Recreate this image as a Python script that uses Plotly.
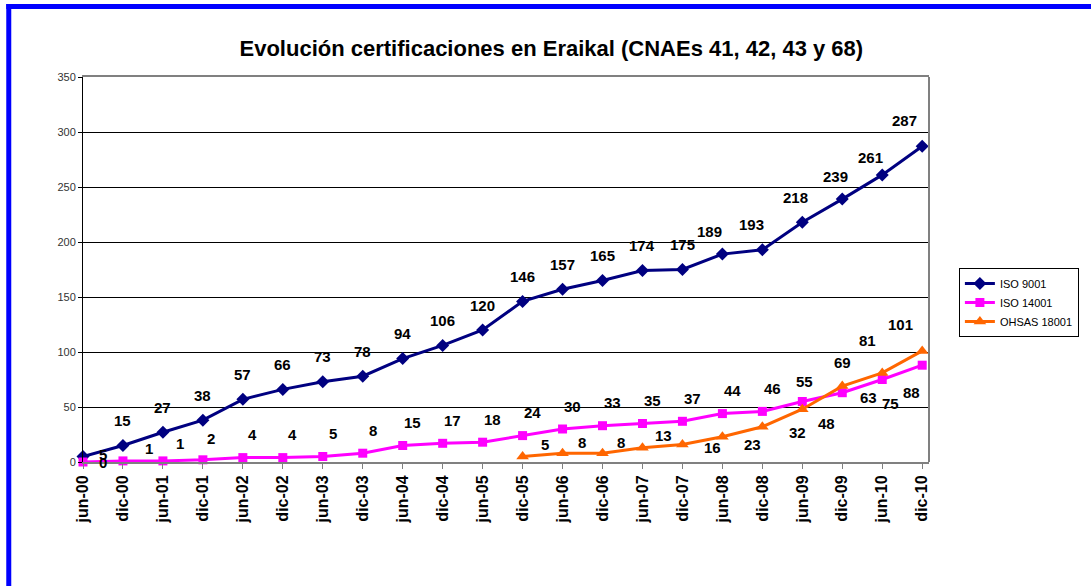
import plotly.graph_objects as go

# periodos semestrales
periodos = ["jun-00", "dic-00", "jun-01", "dic-01", "jun-02", "dic-02", "jun-03", "dic-03",
            "jun-04", "dic-04", "jun-05", "dic-05", "jun-06", "dic-06", "jun-07", "dic-07",
            "jun-08", "dic-08", "jun-09", "dic-09", "jun-10", "dic-10"]

iso9001 = [5, 15, 27, 38, 57, 66, 73, 78, 94, 106, 120, 146, 157, 165, 174, 175,
           189, 193, 218, 239, 261, 287]
iso14001 = [0, 1, 1, 2, 4, 4, 5, 8, 15, 17, 18, 24, 30, 33, 35, 37,
            44, 46, 55, 63, 75, 88]
ohsas18001 = [None, None, None, None, None, None, None, None, None, None, None,
              5, 8, 8, 13, 16, 23, 32, 48, 69, 81, 101]

# desplazamiento de etiquetas (px), como en la hoja de Excel
off_9001 = [(20, 2)] + [(0, 25)] * 15 + [(-13, 23), (-11, 25), (-7, 25), (-7, 23), (-12, 17), (-18, 26)]
off_14001 = [(20, 0), (26, 12), (17, 17), (8, 21)] + [(10, 23)] * 14 + [(2, 20), (26, -5), (8, -24), (-11, -27)]
off_ohsas = [None] * 11 + [(22, 12), (19, 11), (18, 11), (21, 12), (30, -3), (30, -8), (35, -6),
                          (24, -14), (0, 24), (-15, 32), (-22, 26)]

L, R, T, B = 83, 932, 77, 462


def px_x(p):
    return (p - L) / (R - L)


def px_y(p):
    return (B - p) / (B - T)


fig = go.Figure()
fig.add_trace(go.Scatter(x=periodos, y=iso9001, name="ISO 9001", mode="lines+markers",
                         line=dict(color="#000080", width=3),
                         marker=dict(symbol="diamond", size=10, color="#000080"), cliponaxis=False))
fig.add_trace(go.Scatter(x=periodos, y=iso14001, name="ISO 14001", mode="lines+markers",
                         line=dict(color="#FF00FF", width=3),
                         marker=dict(symbol="square", size=9, color="#FF00FF"), cliponaxis=False))
fig.add_trace(go.Scatter(x=periodos, y=ohsas18001, name="OHSAS 18001", mode="lines+markers",
                         line=dict(color="#FF6600", width=3),
                         marker=dict(symbol="triangle-up", size=11, color="#FF6600"), cliponaxis=False))

for vals, offs in [(iso9001, off_9001), (iso14001, off_14001), (ohsas18001, off_ohsas)]:
    for cat, v, o in zip(periodos, vals, offs):
        if v is None:
            continue
        fig.add_annotation(x=cat, y=v, text="<b>%d</b>" % v, showarrow=False, xshift=o[0], yshift=o[1],
                           font=dict(family="Arial, Liberation Sans", size=15, color="black"))

# marco azul y borde derecho del area
fig.add_shape(type="line", xref="paper", yref="paper", x0=px_x(8.5), x1=px_x(8.5),
              y0=px_y(4), y1=px_y(600), line=dict(color="#0000FF", width=5))
fig.add_shape(type="line", xref="paper", yref="paper", x0=px_x(6), x1=px_x(1100),
              y0=px_y(6.5), y1=px_y(6.5), line=dict(color="#0000FF", width=5))
fig.add_shape(type="line", xref="paper", yref="paper", x0=1, x1=1, y0=0, y1=1,
              line=dict(color="#808080", width=2))

fig.update_layout(
    width=1091, height=586,
    margin=dict(l=L, r=1091 - R, t=T, b=586 - B),
    paper_bgcolor="white", plot_bgcolor="white",
    font=dict(family="Arial, Liberation Sans", color="black"),
    title=dict(text="<b>Evolución certificaciones en Eraikal (CNAEs 41, 42, 43 y 68)</b>",
               x=px_x(553), xref="paper", xanchor="center", y=1 - 48 / 586, yanchor="middle",
               font=dict(size=22, color="black")),
    legend=dict(x=px_x(962), y=px_y(268), xanchor="left", yanchor="top",
                bordercolor="black", borderwidth=1, bgcolor="white",
                font=dict(size=11, color="black"), tracegroupgap=0),
    showlegend=True,
)
fig.update_xaxes(type="category", range=[0, 21.17], tickangle=-90,
                 tickfont=dict(size=16, color="black", weight="bold"),
                 showline=True, linecolor="#808080", linewidth=2, mirror=True,
                 ticks="outside", ticklen=5, tickcolor="#808080", showgrid=False)
fig.update_yaxes(range=[0, 350], dtick=50, showgrid=True, gridcolor="black", gridwidth=1,
                 zeroline=False, showline=True, linecolor="black", linewidth=1,
                 ticks="outside", ticklen=4, tickcolor="black",
                 tickfont=dict(size=11, color="#333333"))

fig.write_html("out.html", config={"displayModeBar": False},
               post_script="document.body.style.margin='0px';")
